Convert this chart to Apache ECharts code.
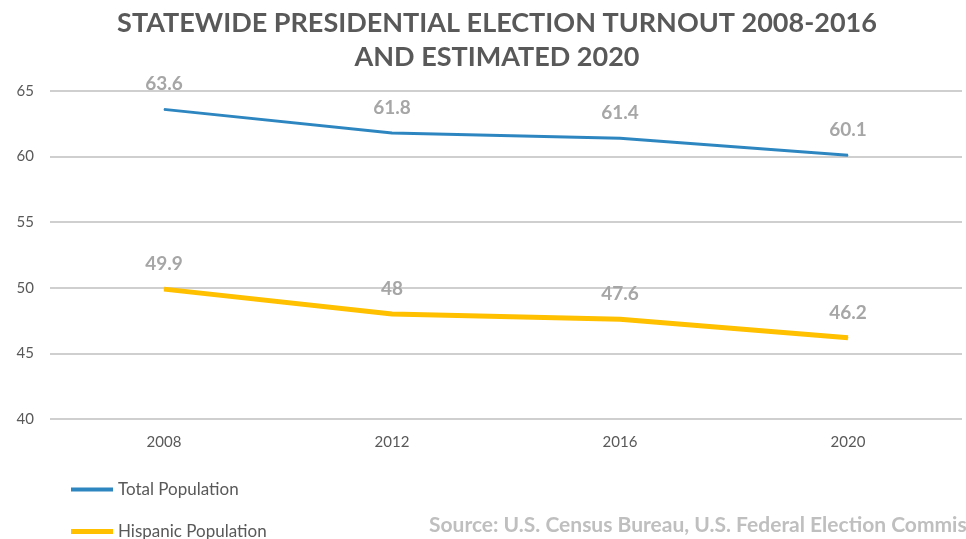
<!DOCTYPE html>
<html><head><meta charset="utf-8">
<script src="https://cdn.jsdelivr.net/npm/echarts@6/dist/echarts.min.js"></script>
<style>html,body{margin:0;padding:0;background:#fff;}#c{width:966px;height:539px;}</style>
</head><body><div id="c"></div>
<script>
const categories = ['2008', '2012', '2016', '2020'];
const totalPopulation = [63.6, 61.8, 61.4, 60.1];
const hispanicPopulation = [49.9, 48, 47.6, 46.2];
const yTicks = [40, 45, 50, 55, 60, 65];

const chart = echarts.init(document.getElementById('c'));
const labelStyle = {show: true, position: 'top', distance: 15, color: '#a6a6a6', fontSize: 19, fontWeight: 'bold', fontFamily: 'Lato'};
const legendText = {color: '#595959', fontSize: 17, fontFamily: 'Lato'};
chart.setOption({
  animation: false,
  title: [{
    text: 'STATEWIDE PRESIDENTIAL ELECTION TURNOUT 2008-2016\nAND ESTIMATED 2020',
    left: 492, top: 1, textAlign: 'center',
    textStyle: {color: '#595959', fontSize: 27, fontWeight: 'bold', fontFamily: 'Lato', lineHeight: 34}
  }, {
    text: 'Source: U.S. Census Bureau, U.S. Federal Election Commision',
    left: 424, top: 510,
    textStyle: {color: '#bfbfbf', fontSize: 21, fontWeight: 'bold', fontFamily: 'Lato'}
  }],
  legend: [{
    left: 66, top: 476, icon: 'rect', itemWidth: 42, itemHeight: 4, itemGap: 4,
    textStyle: legendText, data: ['Total Population']
  }, {
    left: 66, top: 518, icon: 'rect', itemWidth: 42, itemHeight: 5, itemGap: 4,
    textStyle: legendText, data: ['Hispanic Population']
  }],
  grid: {left: 50, right: 4, top: 91, bottom: 120, outerBoundsMode: 'none', containLabel: false},
  xAxis: {
    type: 'category', data: categories, boundaryGap: true,
    axisLine: {show: false}, axisTick: {show: false},
    axisLabel: {color: '#595959', fontSize: 15, margin: 16, fontFamily: 'Lato'}
  },
  yAxis: {
    type: 'value', min: yTicks[0], max: yTicks[yTicks.length - 1], interval: 5,
    axisLine: {show: false}, axisTick: {show: false},
    axisLabel: {color: '#595959', fontSize: 15, margin: 16, fontFamily: 'Lato'},
    splitLine: {lineStyle: {color: '#bfbfbf', width: 1.5}}
  },
  series: [{
    name: 'Total Population', type: 'line', data: totalPopulation,
    symbol: 'circle', symbolSize: 1, showSymbol: true,
    lineStyle: {color: '#2e86c1', width: 3}, itemStyle: {color: '#2e86c1'},
    label: labelStyle
  }, {
    name: 'Hispanic Population', type: 'line', data: hispanicPopulation,
    symbol: 'circle', symbolSize: 1, showSymbol: true,
    lineStyle: {color: '#ffc000', width: 5}, itemStyle: {color: '#ffc000'},
    label: labelStyle
  }]
});
</script></body></html>
